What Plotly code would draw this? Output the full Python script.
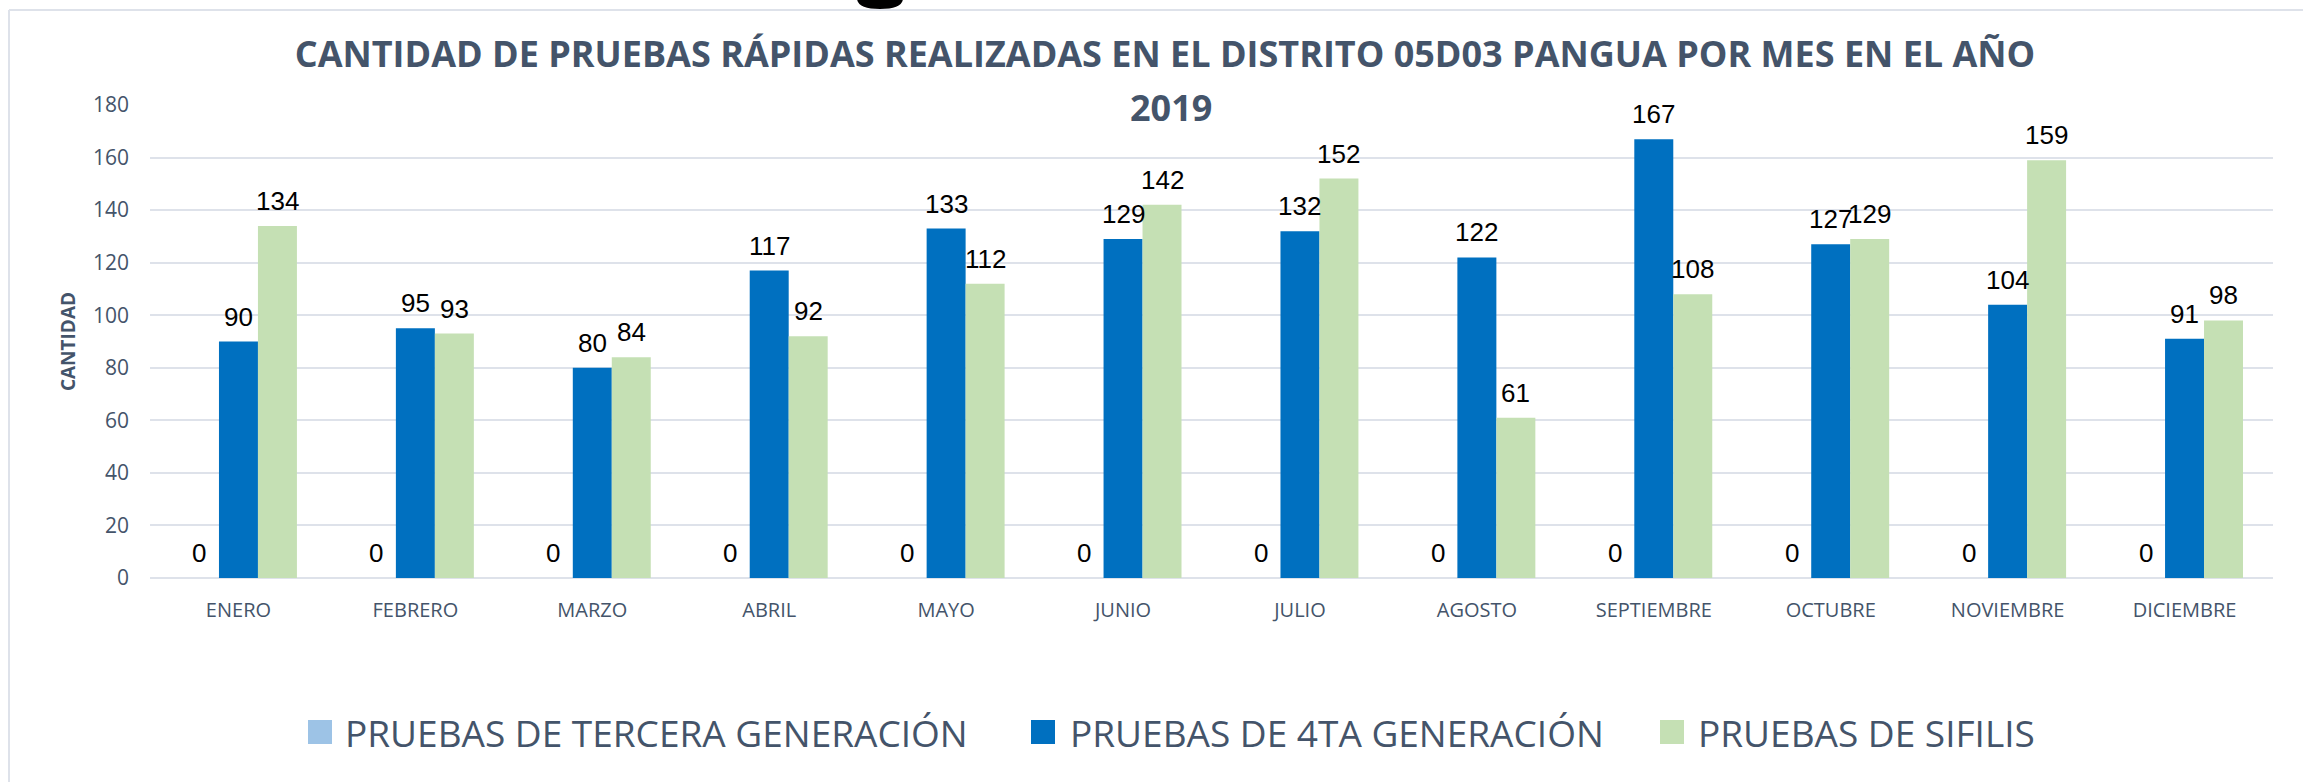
import plotly.graph_objects as go

months = ["ENERO", "FEBRERO", "MARZO", "ABRIL", "MAYO", "JUNIO", "JULIO",
          "AGOSTO", "SEPTIEMBRE", "OCTUBRE", "NOVIEMBRE", "DICIEMBRE"]
tercera = [0, 0, 0, 0, 0, 0, 0, 0, 0, 0, 0, 0]
cuarta = [90, 95, 80, 117, 133, 129, 132, 122, 167, 127, 104, 91]
sifilis = [134, 93, 84, 92, 112, 142, 152, 61, 108, 129, 159, 98]

series_names = ["PRUEBAS DE TERCERA GENERACIÓN", "PRUEBAS DE 4TA GENERACIÓN", "PRUEBAS DE SIFILIS"]
series_colors = ["#9DC3E6", "#0070C0", "#C5E0B4"]
title_line1 = "CANTIDAD DE PRUEBAS RÁPIDAS REALIZADAS EN EL DISTRITO 05D03 PANGUA POR MES EN EL AÑO"
title_line2 = "2019"

TEXT = "#44546A"
GRID = "#DEE2EA"

W, H = 2303, 782
L, R, T, B = 150, 30, 105, 204
PW, PH = W - L - R, H - T - B


def px_x(px):
    return (px - L) / PW


def px_y(py):
    return (H - B - py) / PH


fig = go.Figure()
all_series = [tercera, cuarta, sifilis]
for name, color, vals in zip(series_names, series_colors, all_series):
    fig.add_trace(go.Bar(x=months, y=vals, name=name, marker=dict(color=color, line=dict(width=0)),
                         showlegend=False))

# data labels, sitting a bit higher than plotly's "outside" text
bar_w = PW / len(months) * (1 - 0.339) / 3
annotations = []
for i, vals in enumerate(all_series):
    for m, v in zip(months, vals):
        annotations.append(dict(
            x=m, y=v, xref="x", yref="y", text=str(v), showarrow=False,
            xshift=(i - 1) * bar_w, yshift=25, yanchor="middle",
            font=dict(family="Liberation Sans, Arial", size=26, color="#000000"),
        ))

# second title line, placed on its own to get the wider line spacing
annotations.append(dict(x=px_x(1171), y=px_y(108), xref="paper", yref="paper",
                        text=title_line2, showarrow=False, xanchor="center", yanchor="middle",
                        font=dict(family="Open Sans", size=36, color=TEXT, weight="bold")))

# legend drawn by hand so the swatches can be as big as in the original
shapes = []
leg_swatch = [308, 1031, 1660]
leg_text = [343, 1068, 1696]
leg_y = 732
for name, color, sx, tx in zip(series_names, series_colors, leg_swatch, leg_text):
    shapes.append(dict(type="rect", xref="paper", yref="paper",
                       x0=px_x(sx), x1=px_x(sx + 24), y0=px_y(leg_y + 12), y1=px_y(leg_y - 12),
                       fillcolor=color, line=dict(width=0)))
    annotations.append(dict(x=px_x(tx), y=px_y(leg_y), xref="paper", yref="paper",
                            text=name, showarrow=False, xanchor="left", yanchor="middle",
                            font=dict(family="Open Sans", size=37, color=TEXT)))

# chart frame (top and left edges) and the black blob at the top
shapes.append(dict(type="line", xref="paper", yref="paper", x0=px_x(9), x1=px_x(W + 5),
                   y0=px_y(10), y1=px_y(10), line=dict(color=GRID, width=2)))
shapes.append(dict(type="line", xref="paper", yref="paper", x0=px_x(9), x1=px_x(9),
                   y0=px_y(10), y1=px_y(H + 5), line=dict(color=GRID, width=2)))
shapes.append(dict(type="path", xref="paper", yref="paper",
                   path=(f"M{px_x(857)},{px_y(-5)} L{px_x(857)},{px_y(-2)} "
                         f"Q{px_x(857)},{px_y(9)} {px_x(880)},{px_y(9)} "
                         f"Q{px_x(903)},{px_y(9)} {px_x(903)},{px_y(-2)} L{px_x(903)},{px_y(-5)} Z"),
                   fillcolor="#000000", line=dict(width=0)))

fig.update_layout(
    width=W, height=H,
    margin=dict(l=L, r=R, t=T, b=B, autoexpand=False),
    paper_bgcolor="white", plot_bgcolor="white",
    barmode="group", bargap=0.339, bargroupgap=0,
    title=dict(
        text=title_line1,
        font=dict(family="Open Sans", size=36, color=TEXT, weight="bold"),
        x=1165 / W, xanchor="center", xref="container",
        y=1 - 54 / H, yanchor="middle", yref="container",
    ),
    font=dict(family="Open Sans", color=TEXT),
    annotations=annotations,
    shapes=shapes,
    showlegend=False,
)
fig.update_xaxes(
    tickfont=dict(family="Open Sans", size=20, color=TEXT),
    showgrid=False, showline=False, ticks="", ticklabelstandoff=18,
)
fig.update_yaxes(
    range=[0, 180], dtick=20, tick0=0,
    showgrid=True, gridcolor=GRID, gridwidth=2,
    zeroline=True, zerolinecolor=GRID, zerolinewidth=2,
    tickfont=dict(family="Open Sans", size=21, color=TEXT),
    ticks="", ticklabelstandoff=20,
    title=dict(text="CANTIDAD", standoff=12,
               font=dict(family="Open Sans", size=19, color=TEXT, weight="bold")),
)

# drop the browser's default body margin so the figure fills the window exactly
fig.write_html("out.html", config={"displayModeBar": False},
               post_script="document.body.style.margin='0';")
